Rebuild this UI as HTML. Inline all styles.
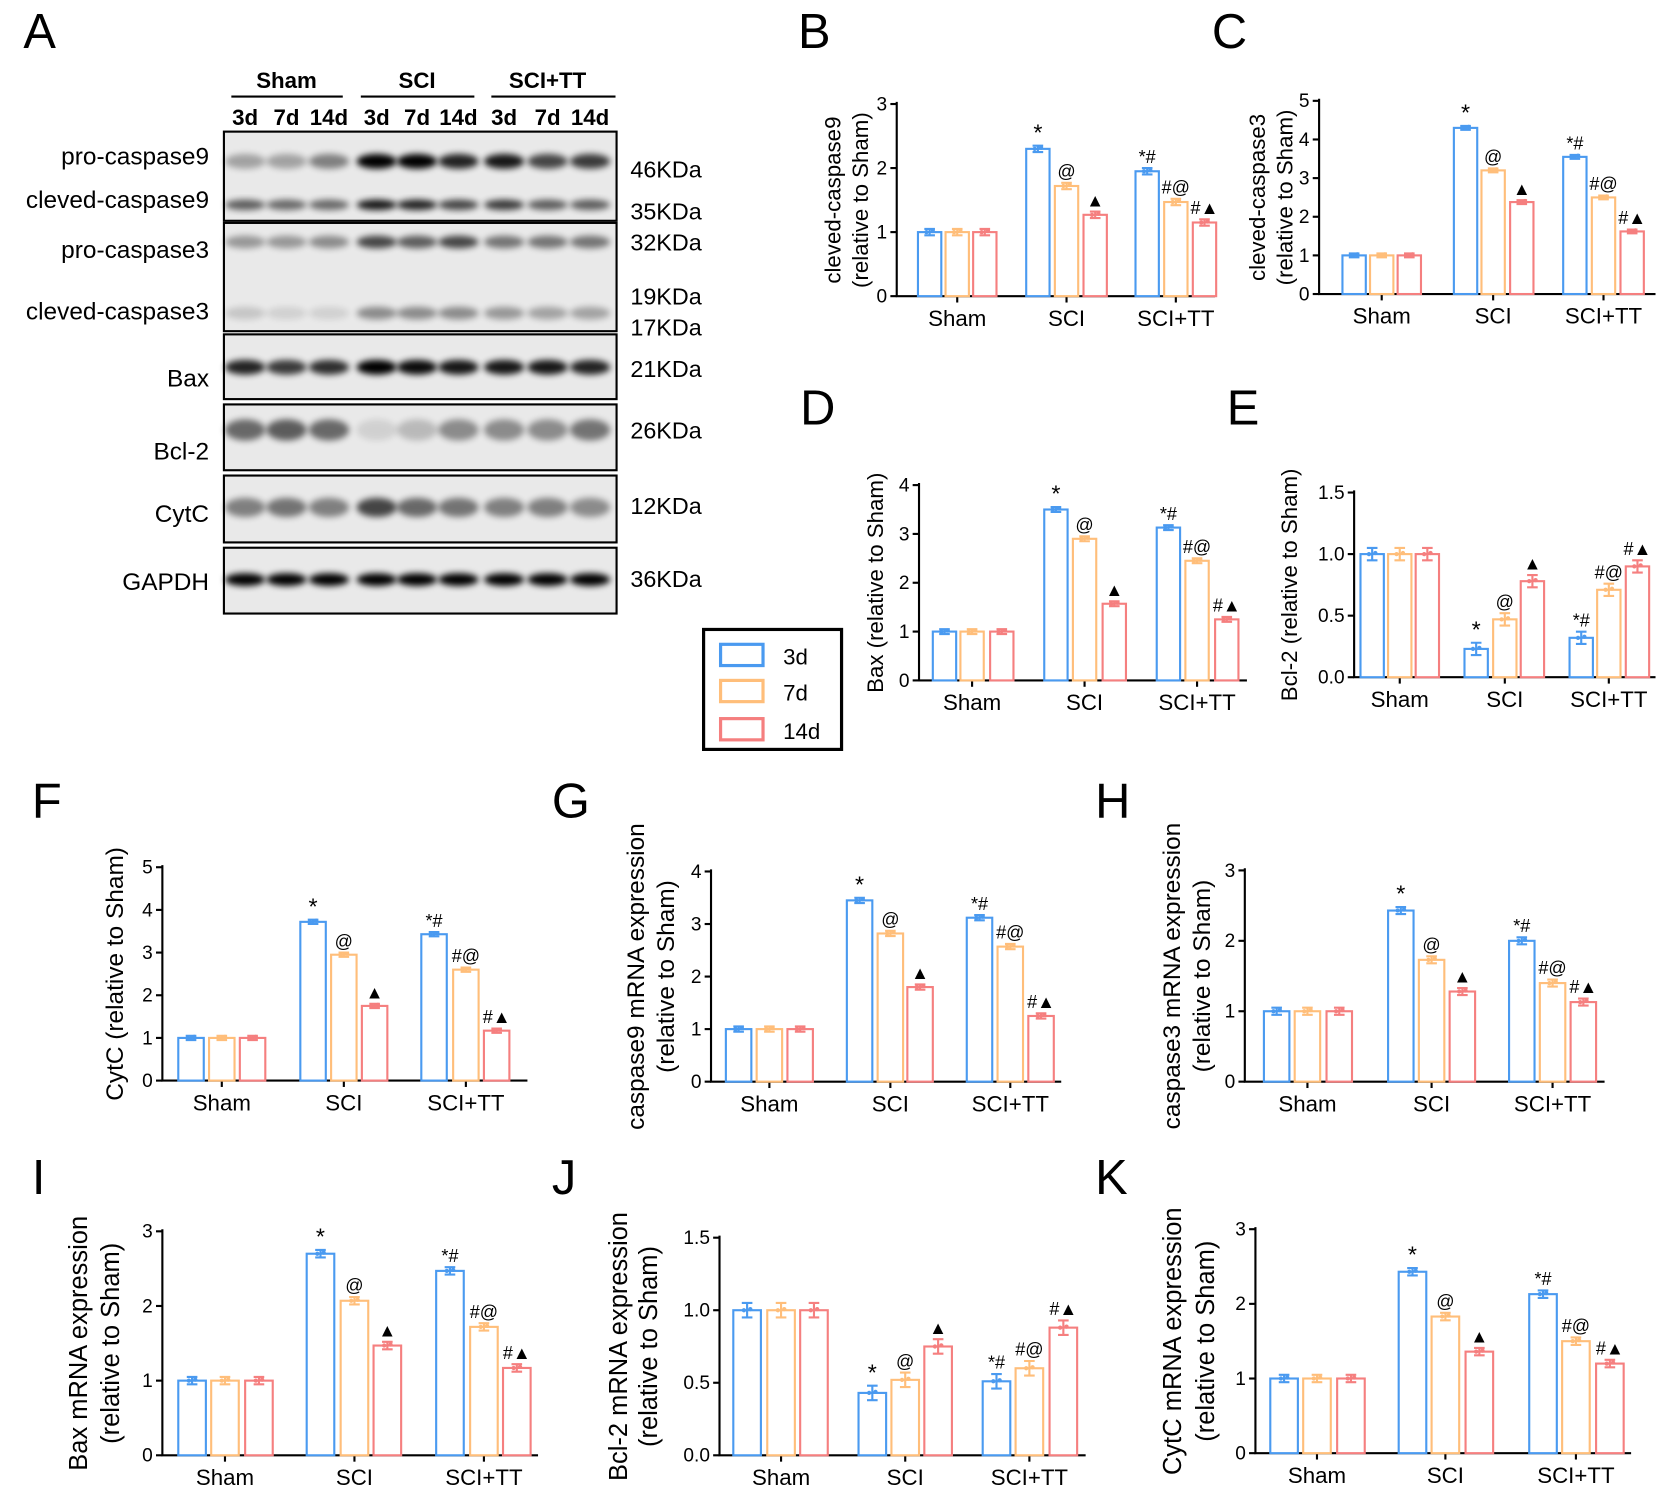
<!DOCTYPE html>
<html><head><meta charset="utf-8"><style>
html,body{margin:0;padding:0;background:#fff}
svg{display:block;font-family:"Liberation Sans",Arial,sans-serif}
</style></head><body>
<svg id="s" width="1664" height="1502" viewBox="0 0 1568 1415" preserveAspectRatio="none" xmlns="http://www.w3.org/2000/svg">
<defs><filter id="bl" x="-20%" y="-50%" width="140%" height="200%"><feGaussianBlur stdDeviation="3"/></filter></defs>
</svg>
<script>
const S=document.getElementById('s');let h='';
const C=['#4a9af0','#ffbe7a','#f57f7f'];
function t(x,y,s,sz,anc,extra){h+=`<text x="${x}" y="${y}" font-size="${sz}" text-anchor="${anc||'start'}" ${extra||''}>${s}</text>`;}
[['A',22,45],['B',752,45],['C',1142,45],['D',754,400],['E',1156,400],['F',30,770],['G',520,770],['H',1032,770],['I',30,1125],['J',520,1125],['K',1032,1125]].forEach(a=>t(a[1],a[2],a[0],46));
t(270,83,'Sham',21,'middle','font-weight="bold"');t(393,83,'SCI',21,'middle','font-weight="bold"');t(516,83,'SCI+TT',21,'middle','font-weight="bold"');
h+=`<path d="M218 91H323M340 91H447M463 91H580" stroke="#000" stroke-width="2"/>`;
const L=[231,270,310,355,393,432,475,516,556];
L.forEach((x,i)=>t(x,118,['3d','7d','14d'][i%3],21,'middle','font-weight="bold"'));
const boxes=[[124,208],[210,312],[315,376],[381,443],[448,511],[516,578]];
boxes.forEach(b=>h+=`<rect x="211" y="${b[0]}" width="370" height="${b[1]-b[0]}" fill="#e9e9e9" stroke="#000" stroke-width="2"/>`);
function band(y,ints,hh){L.forEach((x,i)=>{const v=ints[i];h+=`<ellipse cx="${x}" cy="${y}" rx="19" ry="${hh}" fill="#000" opacity="${v}" filter="url(#bl)"/>`;});}
band(152,[.3,.3,.45,1,1,.85,.9,.7,.75],7);
band(193,[.6,.55,.55,.9,.85,.7,.75,.6,.6],5);
band(228,[.35,.35,.4,.7,.6,.7,.5,.5,.5],6);
band(295,[.15,.1,.1,.4,.4,.4,.35,.3,.3],6);
band(346,[.85,.75,.8,1,.95,.9,.9,.9,.85],7);
band(405,[.55,.6,.55,.1,.2,.4,.4,.4,.5],10);
band(478,[.45,.5,.45,.7,.55,.5,.45,.45,.4],9);
band(546,[1,1,1,1,1,1,1,1,1],6);
[['pro-caspase9',155],['cleved-caspase9',196],['pro-caspase3',243],['cleved-caspase3',301],['Bax',364],['Bcl-2',433],['CytC',492],['GAPDH',556]].forEach(a=>t(197,a[1],a[0],23,'end'));
[['46KDa',167],['35KDa',207],['32KDa',236],['19KDa',287],['17KDa',316],['21KDa',355],['26KDa',413],['12KDa',484],['36KDa',553]].forEach(a=>t(594,a[1],a[0],22));
h+=`<rect x="663" y="593" width="130" height="113" fill="#fff" stroke="#000" stroke-width="3"/>`;
[['3d',618],['7d',652],['14d',688]].forEach((a,i)=>{h+=`<rect x="679" y="${a[1]-11}" width="40" height="20" fill="none" stroke="${C[i]}" stroke-width="3"/>`;t(738,a[1]+8,a[0],21);});
function P(o){
 const {ax,bot,top,max,ticks,xend,bars,vals,yl,ylx,bw,fs}=o;
 const sc=v=>bot-(bot-top)*v/max;
 const w=bw||22;
 h+=`<path d="M${ax} ${top-2}V${bot}H${xend}" stroke="#000" stroke-width="2" fill="none"/>`;
 ticks.forEach(tv=>{const y=sc(+tv);h+=`<path d="M${ax-6} ${y}H${ax}" stroke="#000" stroke-width="2"/>`;t(ax-9,y+6,tv,18,'end');});
 [0,3,6].forEach((k,g)=>{const cx=bars[k+1];h+=`<path d="M${cx} ${bot}v6" stroke="#000" stroke-width="2"/>`;t(cx,bot+28,['Sham','SCI','SCI+TT'][g],21,'middle');});
 bars.forEach((x,i)=>{const v=vals[i],y=sc(v),c=C[i%3],e=(bot-top)/max*0.05;
  h+=`<rect x="${x-w/2}" y="${y}" width="${w}" height="${bot-y}" fill="#fff" stroke="${c}" stroke-width="2"/>`;
  h+=`<path d="M${x} ${y-e}V${y+e}M${x-5} ${y-e}H${x+5}M${x-5} ${y+e}H${x+5}" stroke="${c}" stroke-width="2"/>`;
  h+=`<circle cx="${x-3}" cy="${y}" r="2" fill="${c}"/><circle cx="${x+3}" cy="${y-1}" r="2" fill="${c}"/>`;
  const a=['','','','*','@','▲','*#','#@','#▲'][i];
  if(a)t(x,y-e-5,a,a=='*'?22:17,'middle');
 });
 const cy=(top+bot)/2;
 yl.forEach((s,i)=>t(ylx[i],cy,s,fs||21,'middle',`transform="rotate(-90 ${ylx[i]} ${cy})"`));
}
P({ax:845,bot:279,top:98,max:3,ticks:['0','1','2','3'],xend:1145,bars:[876,902,928,978,1005,1032,1081,1108,1135],vals:[1,1,1,2.3,1.72,1.27,1.95,1.47,1.15],yl:['cleved-caspase9','(relative to Sham)'],ylx:[792,818]});
P({ax:1243,bot:277,top:95,max:5,ticks:['0','1','2','3','4','5'],xend:1560,bars:[1276,1302,1328,1381,1407,1434,1484,1511,1538],vals:[1,1,1,4.3,3.2,2.38,3.55,2.5,1.62],yl:['cleved-caspase3','(relative to Sham)'],ylx:[1192,1218]});
P({ax:866,bot:641,top:457,max:4,ticks:['0','1','2','3','4'],xend:1175,bars:[890,916,944,995,1022,1050,1101,1128,1156],vals:[1,1,1,3.5,2.9,1.57,3.13,2.45,1.25],yl:['Bax (relative to Sham)'],ylx:[832]});
P({ax:1276,bot:638,top:464,max:1.5,ticks:['0.0','0.5','1.0','1.5'],xend:1560,bars:[1293,1319,1345,1391,1418,1444,1490,1516,1543],vals:[1,1,1,.23,.47,.78,.32,.71,.9],yl:['Bcl-2 (relative to Sham)'],ylx:[1222]});
P({ax:153,bot:1018,top:817,max:5,ticks:['0','1','2','3','4','5'],xend:497,bw:24,bars:[180,209,238,295,324,353,409,439,468],vals:[1,1,1,3.72,2.95,1.75,3.43,2.6,1.17],yl:['CytC (relative to Sham)'],ylx:[116],fs:23});
P({ax:670,bot:1019,top:821,max:4,ticks:['0','1','2','3','4'],xend:1000,bw:24,bars:[696,725,754,810,839,867,923,952,981],vals:[1,1,1,3.45,2.82,1.8,3.12,2.57,1.25],yl:['caspase9 mRNA expression','(relative to Sham)'],ylx:[607,635],fs:23});
P({ax:1173,bot:1019,top:820,max:3,ticks:['0','1','2','3'],xend:1512,bw:24,bars:[1203,1232,1262,1320,1349,1378,1434,1463,1492],vals:[1,1,1,2.43,1.73,1.28,2,1.4,1.13],yl:['caspase3 mRNA expression','(relative to Sham)'],ylx:[1112,1140],fs:23});
P({ax:153,bot:1371,top:1160,max:3,ticks:['0','1','2','3'],xend:507,bw:26,bars:[181,212,244,302,334,365,424,456,487],vals:[1,1,1,2.7,2.07,1.47,2.47,1.72,1.17],yl:['Bax mRNA expression','(relative to Sham)'],ylx:[82,112],fs:24});
P({ax:678,bot:1371,top:1166,max:1.5,ticks:['0.0','0.5','1.0','1.5'],xend:1023,bw:26,bars:[704,736,767,822,853,884,939,970,1002],vals:[1,1,1,.43,.52,.75,.51,.6,.88],yl:['Bcl-2 mRNA expression','(relative to Sham)'],ylx:[591,619],fs:24});
P({ax:1183,bot:1369,top:1158,max:3,ticks:['0','1','2','3'],xend:1537,bw:26,bars:[1210,1241,1273,1331,1362,1394,1454,1485,1517],vals:[1,1,1,2.43,1.83,1.36,2.13,1.5,1.2],yl:['CytC mRNA expression','(relative to Sham)'],ylx:[1113,1144],fs:24});
S.insertAdjacentHTML('beforeend',h);
</script>
</body></html>
